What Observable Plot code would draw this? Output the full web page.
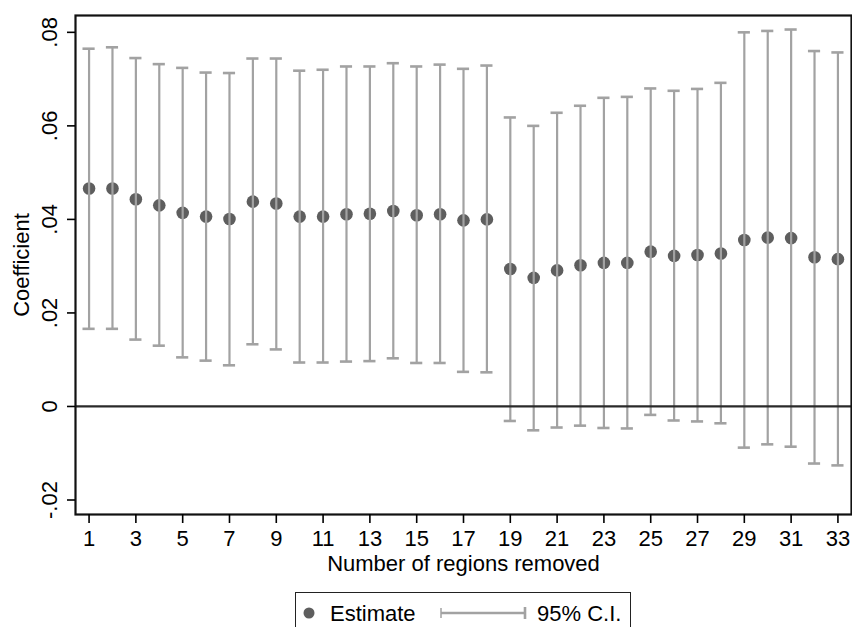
<!DOCTYPE html>
<html>
<head>
<meta charset="utf-8">
<script src="https://cdn.jsdelivr.net/npm/d3@7"></script>
<script src="https://cdn.jsdelivr.net/npm/@observablehq/plot@0.6"></script>
<style>
  html, body { margin: 0; padding: 0; background: #fff; }
  body { font-family: "Liberation Sans", Arial, Helvetica, sans-serif; }
  #wrap { position: relative; width: 852px; height: 627px; overflow: hidden; background: #fff; }
  #chart svg { display: block; }
  #legend {
    position: absolute; left: 295px; top: 592px; width: 336px; height: 50px;
    border: 1.6px solid #222; box-sizing: border-box; background: #fff;
  }
  #legend svg { position: absolute; left: 0; top: 0; }
</style>
</head>
<body>
<div id="wrap">
  <div id="chart"></div>
  <div id="legend"></div>
</div>
<script>
// ---- Data ----
const regions = [1,2,3,4,5,6,7,8,9,10,11,12,13,14,15,16,17,18,19,20,21,22,23,24,25,26,27,28,29,30,31,32,33];
const estimate = [0.0466,0.0466,0.0443,0.0430,0.0414,0.0406,0.0401,0.0438,0.0434,0.0406,0.0406,0.0411,0.0412,0.0418,0.0409,0.0411,0.0398,0.0400,
                  0.0294,0.0275,0.0291,0.0302,0.0307,0.0307,0.0331,0.0322,0.0324,0.0327,0.0356,0.0361,0.0360,0.0319,0.0315];
const ciUpper = [0.0765,0.0768,0.0745,0.0732,0.0724,0.0714,0.0713,0.0744,0.0744,0.0718,0.0720,0.0727,0.0727,0.0734,0.0727,0.0731,0.0722,0.0729,
                 0.0618,0.0600,0.0628,0.0643,0.0660,0.0662,0.0680,0.0675,0.0679,0.0692,0.0800,0.0803,0.0806,0.0760,0.0757];
const ciLower = [0.0166,0.0166,0.0143,0.0130,0.0105,0.0098,0.0088,0.0133,0.0122,0.0094,0.0094,0.0096,0.0097,0.0103,0.0093,0.0093,0.0074,0.0073,
                 -0.0031,-0.0051,-0.0045,-0.0041,-0.0046,-0.0047,-0.0018,-0.0030,-0.0032,-0.0036,-0.0088,-0.0081,-0.0086,-0.0122,-0.0126];
const yTicks = [-0.02, 0, 0.02, 0.04, 0.06, 0.08];
const yTickLabels = ["-.02", "0", ".02", ".04", ".06", ".08"];
const xTicks = [1,3,5,7,9,11,13,15,17,19,21,23,25,27,29,31,33];

const rows = regions.map((r, i) => ({region: r, est: estimate[i], lo: ciLower[i], hi: ciUpper[i]}));
const yLabelMap = new Map(yTicks.map((t, i) => [t, yTickLabels[i]]));

const ciColor = "#a2a2a2";
const dotColor = "#5e5e5e";
const capHalf = 0.26; // half cap width in x units

const chart = Plot.plot({
  width: 852,
  height: 592,
  marginLeft: 75,
  marginRight: 1,
  marginTop: 15,
  marginBottom: 78,
  style: {fontFamily: "'Liberation Sans', Arial, Helvetica, sans-serif", fontSize: "22px", color: "#000", background: "#fff", overflow: "visible"},
  x: {domain: [0.42, 33.58]},
  y: {domain: [-0.0231, 0.0836]},
  marks: [
    Plot.dot(rows, {x: "region", y: "est", r: 6.3, fill: dotColor, stroke: "none"}),
    Plot.ruleX(rows, {x: "region", y1: "lo", y2: "hi", stroke: ciColor, strokeWidth: 2.2}),
    Plot.ruleY(rows, {y: "hi", x1: d => d.region - capHalf, x2: d => d.region + capHalf, stroke: ciColor, strokeWidth: 2.6}),
    Plot.ruleY(rows, {y: "lo", x1: d => d.region - capHalf, x2: d => d.region + capHalf, stroke: ciColor, strokeWidth: 2.6}),
    Plot.ruleY([0], {stroke: "#2a2a2a", strokeWidth: 2.2}),
    Plot.frame({stroke: "#111", strokeWidth: 2.2}),
    Plot.axisY({
      ticks: yTicks, tickFormat: d => yLabelMap.get(d), tickRotate: -90,
      tickSize: 8, tickPadding: 11, strokeWidth: 1.6,
      label: "Coefficient", labelAnchor: "center", labelOffset: 62, labelArrow: "none"
    }),
    Plot.axisX({
      ticks: xTicks, tickFormat: d => String(d),
      tickSize: 9, tickPadding: 7, strokeWidth: 1.6,
      label: "Number of regions removed", labelAnchor: "center", labelOffset: 56, labelArrow: "none"
    })
  ]
});
document.getElementById("chart").appendChild(chart);

// ---- Legend (below the SVG) ----
const legendSvg = d3.create("svg").attr("width", 336).attr("height", 50)
  .style("font-family", "'Liberation Sans', Arial, Helvetica, sans-serif").style("font-size", "22px");
legendSvg.append("circle").attr("cx", 13).attr("cy", 20).attr("r", 5.5).attr("fill", dotColor);
legendSvg.append("text").attr("x", 34).attr("y", 28).attr("fill", "#000").text("Estimate");
legendSvg.append("line").attr("x1", 145).attr("x2", 229).attr("y1", 20).attr("y2", 20).attr("stroke", ciColor).attr("stroke-width", 2.4);
legendSvg.append("line").attr("x1", 145).attr("x2", 145).attr("y1", 15).attr("y2", 25).attr("stroke", ciColor).attr("stroke-width", 1.5);
legendSvg.append("line").attr("x1", 229).attr("x2", 229).attr("y1", 14).attr("y2", 26).attr("stroke", ciColor).attr("stroke-width", 2.6);
legendSvg.append("text").attr("x", 241).attr("y", 28).attr("fill", "#000").text("95% C.I.");
document.getElementById("legend").appendChild(legendSvg.node());
</script>
</body>
</html>
